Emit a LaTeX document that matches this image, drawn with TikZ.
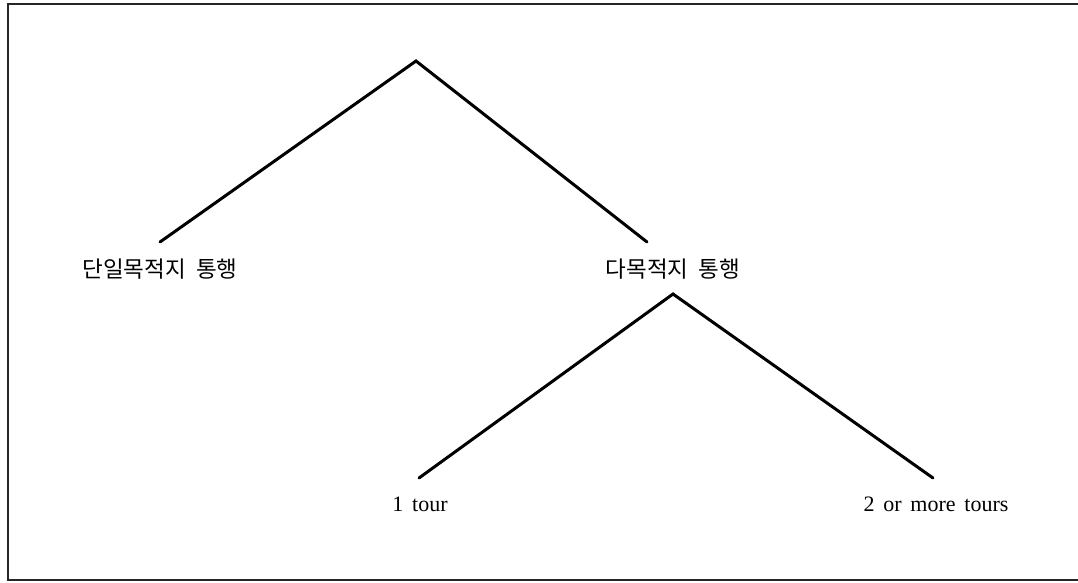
\documentclass[tikz,border=0pt]{standalone}
\usepackage{fontspec}
\setmainfont{Liberation Serif}
\newfontfamily\kofont{Noto Sans CJK KR}
\newcommand\kosetup{\kofont\fontsize{22.5}{24}\selectfont\spaceskip=0.45em\relax}
\newcommand\ensetup{\fontsize{22}{24}\selectfont\spaceskip=0.4em\relax}
\begin{document}
\begin{tikzpicture}[x=1pt,y=-1pt,
  branch/.style={line width=3pt,line cap=round,line join=miter},
  frame/.style={line width=2pt,draw=black!85},
  kolabel/.style={font=\kosetup,inner sep=0pt},
  enlabel/.style={font=\ensetup,inner sep=0pt,anchor=base}]
\useasboundingbox (0,0) rectangle (1078,582);
\draw[frame] (1078,4) -- (7.5,4) -- (7.5,579.5) -- (1078,579.5);
% top split
\coordinate (apexA) at (416,61);
\coordinate (endAL) at (160,242);
\coordinate (endAR) at (647,242);
\node[kolabel] (single) at (160,269) {단일목적지 통행};
\node[kolabel] (multi) at (673,269) {다목적지 통행};
% bottom split
\coordinate (apexB) at (673,294);
\coordinate (endBL) at (419,478);
\coordinate (endBR) at (933,478);
\node[enlabel] (one) at (420,511) {1 tour};
\node[enlabel] (two) at (936,511) {2 or more tours};
\draw[branch] (endAL) -- (apexA) -- (endAR);
\draw[branch] (endBL) -- (apexB) -- (endBR);
\end{tikzpicture}
\end{document}
